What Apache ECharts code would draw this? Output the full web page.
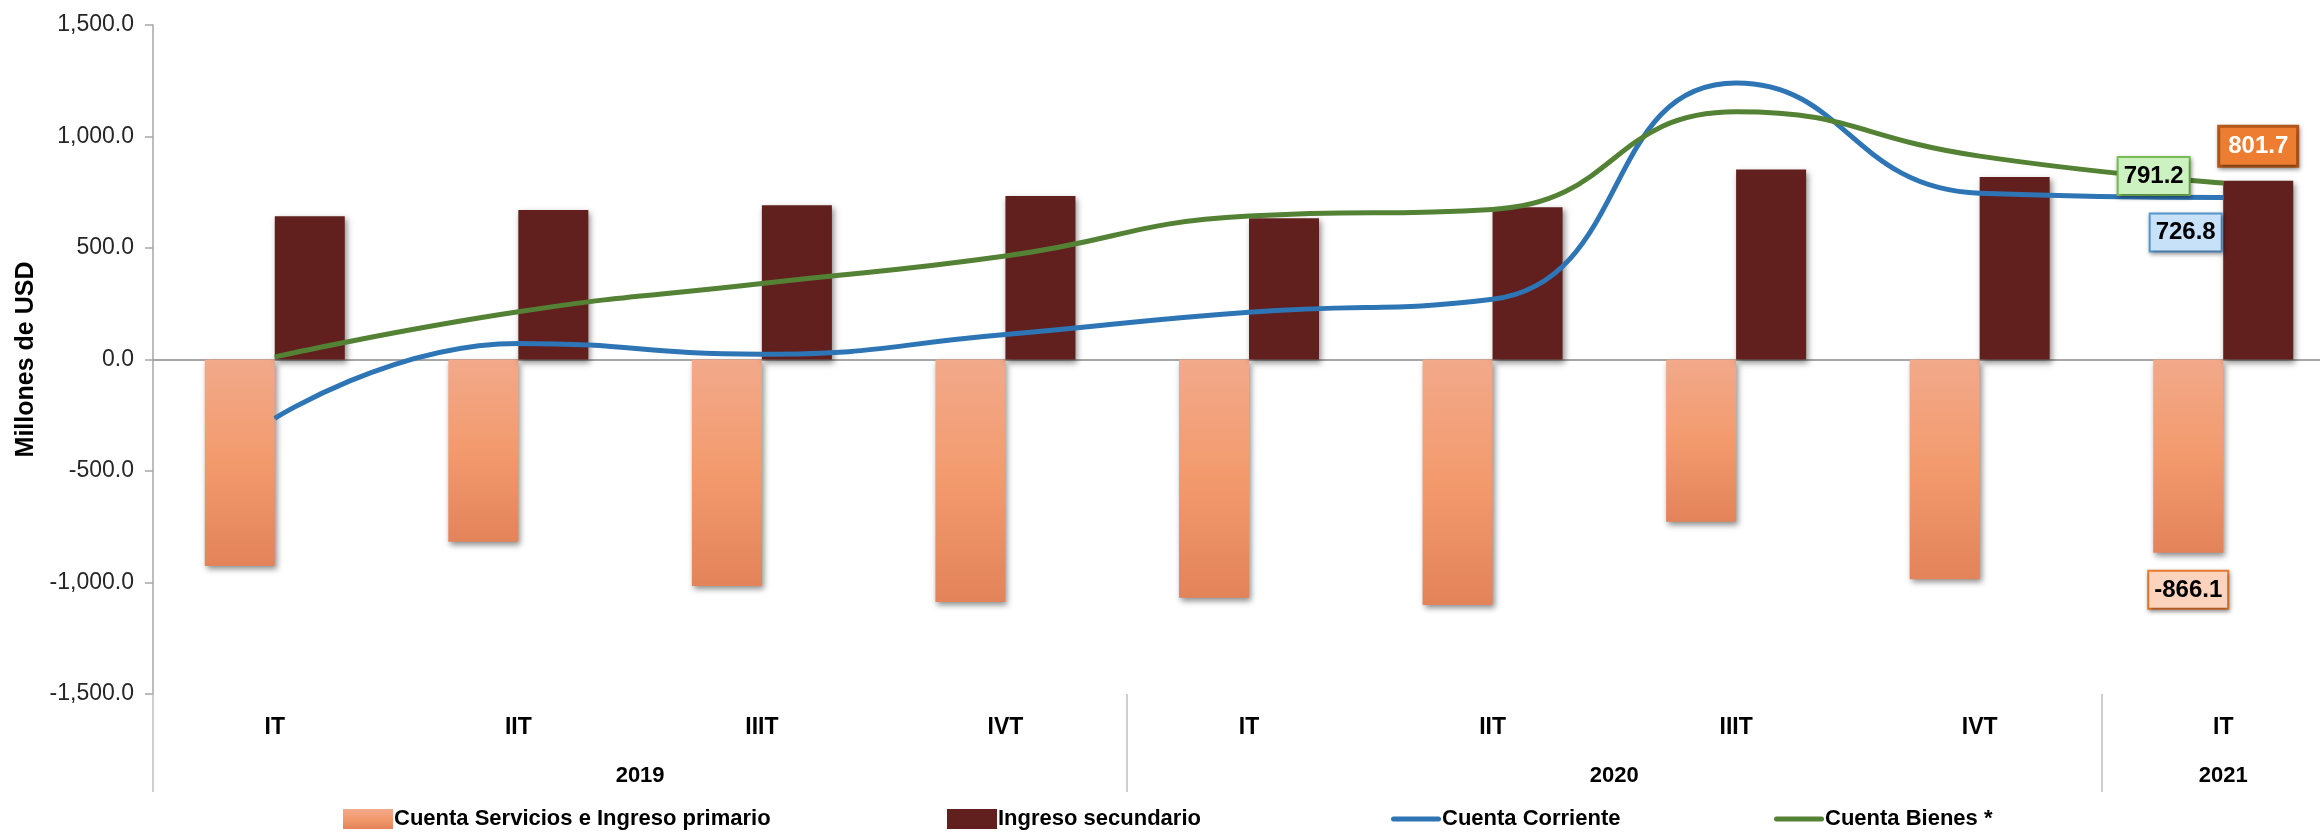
<!DOCTYPE html>
<html>
<head>
<meta charset="utf-8">
<script src="https://cdn.jsdelivr.net/npm/echarts@6/dist/echarts.min.js"></script>
<style>
html,body{margin:0;padding:0;background:#fff;}
#chart{width:2320px;height:834px;}
</style>
</head>
<body>
<div id="chart"></div>
<script>
// ---- data ----
const categories = ['IT', 'IIT', 'IIIT', 'IVT', 'IT', 'IIT', 'IIIT', 'IVT', 'IT'];
const years = ['2019', '2020', '2021'];
const quartersPerYear = [4, 4, 1];
const serviciosPrimario = [-926, -817, -1016, -1088, -1068, -1101, -728, -985, -866.1];
const ingresoSecundario = [642, 670, 692, 733, 633, 683, 852, 818, 801.7];
const cuentaCorriente = [-264, 72, 24, 112, 212, 270, 1240, 746, 726.8];
const cuentaBienes = [12, 214, 341, 464, 643, 673, 1111, 912, 791.2];
const seriesNames = ['Cuenta Servicios e Ingreso primario', 'Ingreso secundario', 'Cuenta Corriente', 'Cuenta Bienes *'];
const yMin = -1500, yMax = 1500, yInterval = 500;

// ---- helpers ----
const BOLD = "'Liberation Sans', Arial, sans-serif";
const REG = "'Liberation Sans', Arial, sans-serif";
const fmt1 = v => Number(v).toLocaleString('en-US', {minimumFractionDigits: 1, maximumFractionDigits: 1});

let acc = 0; const yearBounds = [0]; const yearCenters = [];
quartersPerYear.forEach(n => { yearCenters.push(acc + n / 2); acc += n; yearBounds.push(acc); });

function withLastLabel(arr, label) {
  return arr.map((v, i) => i === arr.length - 1 ? {value: v, label: Object.assign({show: true, formatter: p => fmt1(p.value)}, label)} : v);
}
const boxShadow = {shadowColor: 'rgba(0,0,0,0.35)', shadowBlur: 4, shadowOffsetX: 1, shadowOffsetY: 2};
const barShadow = {shadowColor: 'rgba(0,0,0,0.45)', shadowBlur: 6, shadowOffsetX: 2, shadowOffsetY: 3};

const chart = echarts.init(document.getElementById('chart'), null, {renderer: 'canvas'});
const legendBase = {
  top: 803, itemWidth: 50, itemHeight: 20, itemGap: 0,
  textStyle: {fontFamily: BOLD, fontWeight: 'bold', fontSize: 22, color: '#000', padding: [0, 0, 0, -4]},
  selectedMode: false
};
const lineIcon = 'path://M3,0 H57 A3,3 0 0 1 57,6 H3 A3,3 0 0 1 3,0 Z';

chart.setOption({
  animation: false,
  backgroundColor: '#fff',
  grid: {left: 153, width: 2192, top: 25, bottom: 140, containLabel: false, outerBoundsMode: 'none'},
  legend: [
    Object.assign({}, legendBase, {left: 338, data: [{name: seriesNames[0], icon: 'rect'}]}),
    Object.assign({}, legendBase, {left: 942, data: [{name: seriesNames[1], icon: 'rect'}]}),
    Object.assign({}, legendBase, {left: 1386, data: [{name: seriesNames[2], icon: lineIcon}]}),
    Object.assign({}, legendBase, {left: 1769, data: [{name: seriesNames[3], icon: lineIcon}]})
  ],
  xAxis: [
    {
      type: 'category', data: categories, position: 'bottom',
      axisLine: {show: false, onZero: false}, axisTick: {show: false},
      axisLabel: {interval: 0, margin: 22, fontFamily: BOLD, fontWeight: 'bold', fontSize: 23, color: '#000', lineHeight: 23},
      splitLine: {show: false}
    },
    {
      type: 'value', min: 0, max: categories.length, interval: 1, position: 'bottom',
      axisLine: {show: false, onZero: false},
      axisTick: {show: true, customValues: yearBounds, length: 98, lineStyle: {color: '#BFBFBF', width: 1.5}},
      axisLabel: {customValues: yearCenters, margin: 71, fontFamily: BOLD, fontWeight: 'bold', fontSize: 22, color: '#000',
        formatter: v => { const k = yearCenters.indexOf(Number(v)); return k >= 0 ? years[k] : ''; }},
      splitLine: {show: false}
    },
    {
      type: 'category', data: categories,
      axisLine: {show: true, onZero: true, lineStyle: {color: '#A6A6A6', width: 2}},
      axisTick: {show: false}, axisLabel: {show: false}, splitLine: {show: false}
    }
  ],
  yAxis: {
    type: 'value', min: yMin, max: yMax, interval: yInterval,
    name: 'Millones de USD', nameLocation: 'middle', nameGap: 102, nameRotate: 90,
    nameTextStyle: {fontFamily: BOLD, fontWeight: 'bold', fontSize: 25, color: '#000'},
    axisLine: {show: true, lineStyle: {color: '#A6A6A6', width: 1.5}},
    axisTick: {show: true, length: 8, lineStyle: {color: '#A6A6A6', width: 1.5}},
    axisLabel: {margin: 19, fontFamily: REG, fontSize: 23, color: '#262626', formatter: v => fmt1(v)},
    splitLine: {show: false}
  },
  series: [
    {
      name: seriesNames[0], type: 'bar', xAxisIndex: 0, barWidth: 70, barGap: '0%',
      itemStyle: Object.assign({
        color: new echarts.graphic.LinearGradient(0, 0, 0, 1, [
          {offset: 0, color: '#F2A98A'}, {offset: 0.5, color: '#F39A6D'}, {offset: 1, color: '#E3835A'}
        ])
      }, barShadow),
      data: withLastLabel(serviciosPrimario, Object.assign({
        position: 'bottom', distance: 19, fontFamily: BOLD, fontWeight: 'bold', fontSize: 24, color: '#000',
        backgroundColor: '#FCD3BD', borderColor: '#ED7D31', borderWidth: 2, padding: [5, 5, 4, 5], lineHeight: 27
      }, boxShadow))
    },
    {
      name: seriesNames[1], type: 'bar', xAxisIndex: 0, barWidth: 70, barGap: '0%',
      itemStyle: Object.assign({color: '#611F1E'}, barShadow),
      data: withLastLabel(ingresoSecundario, Object.assign({
        position: 'top', distance: 16, fontFamily: BOLD, fontWeight: 'bold', fontSize: 24, color: '#fff',
        backgroundColor: '#ED7D31', borderColor: '#B85A1B', borderWidth: 3, padding: [5, 8, 4, 8], lineHeight: 28
      }, boxShadow))
    },
    {
      name: seriesNames[2], type: 'line', xAxisIndex: 0, smooth: 0.5, symbol: 'circle', symbolSize: 1, showSymbol: true,
      lineStyle: {color: '#2E75B6', width: 5}, itemStyle: {color: '#2E75B6'},
      data: withLastLabel(cuentaCorriente, Object.assign({
        position: 'left', distance: 2, offset: [0, 35], fontFamily: BOLD, fontWeight: 'bold', fontSize: 24, color: '#000',
        backgroundColor: '#C7E1F8', borderColor: '#5B9BD5', borderWidth: 2, padding: [5, 5, 4, 5], lineHeight: 27
      }, boxShadow))
    },
    {
      name: seriesNames[3], type: 'line', xAxisIndex: 0, smooth: 0.5, symbol: 'circle', symbolSize: 1, showSymbol: true,
      lineStyle: {color: '#548235', width: 5}, itemStyle: {color: '#548235'},
      data: withLastLabel(cuentaBienes, Object.assign({
        position: 'left', distance: 34, offset: [0, -7], fontFamily: BOLD, fontWeight: 'bold', fontSize: 24, color: '#000',
        backgroundColor: '#CDF2C2', borderColor: '#7CC15A', borderWidth: 2, padding: [5, 5, 4, 5], lineHeight: 27
      }, boxShadow))
    }
  ]
});
</script>
</body>
</html>
